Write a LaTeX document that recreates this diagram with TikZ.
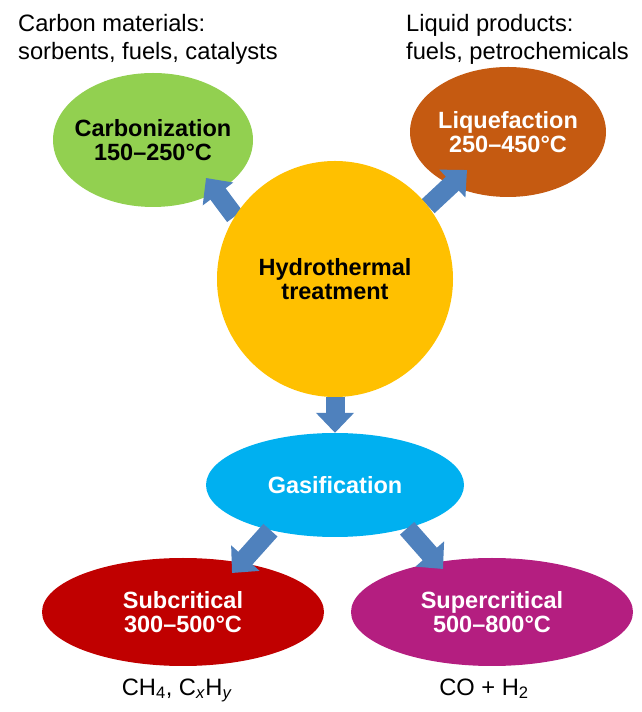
\documentclass[tikz,border=0pt]{standalone}
\usepackage{fontspec}
\setmainfont{Liberation Sans}
\usetikzlibrary{arrows.meta,shapes}
\definecolor{carbgreen}{RGB}{146,208,80}
\definecolor{liqorange}{RGB}{197,90,17}
\definecolor{hydroyellow}{RGB}{255,192,0}
\definecolor{gasblue}{RGB}{0,176,240}
\definecolor{subred}{RGB}{192,0,0}
\definecolor{supermagenta}{RGB}{180,30,128}
\definecolor{arrowblue}{RGB}{79,129,189}
\pgfdeclarelayer{front}
\pgfsetlayers{main,front}

\begin{document}
\begin{tikzpicture}[>=latex,line join=bevel,
  blob/.style={ellipse,inner sep=-30bp,align=center,
    font=\bfseries\fontsize{23.5bp}{23.5bp}\selectfont},
  blockarrow/.style={draw=arrowblue,line width=19bp,
    -{Triangle[width=37bp,length=20bp]}},
  note/.style={inner sep=0bp,align=left,
    font=\fontsize{23.7bp}{27.6bp}\selectfont}]
  \useasboundingbox (0bp,0bp) rectangle (642bp,712bp);
  \node (carbuse) at (18bp,652.7bp) [note,anchor=base west]
  {Carbon materials:\\sorbents, fuels, catalysts};
  \node (liquse) at (406bp,652.7bp) [note,anchor=base west]
  {Liquid products:\\fuels, petrochemicals};
  \node (carb) at (153bp,572bp) [blob,fill=carbgreen,minimum
  width=200bp,minimum height=134bp] {Carbonization\\150--250°C};
  \node (liq) at (508bp,580bp) [blob,fill=liqorange,text=white,minimum
  width=196bp,minimum height=130bp] {Liquefaction\\250--450°C};
  \node (gas) at (335bp,227bp) [blob,fill=gasblue,text=white,minimum
  width=258bp,minimum height=104bp] {Gasification};
  \node (sub) at (183bp,100bp) [blob,fill=subred,text=white,minimum
  width=282bp,minimum height=108bp] {Subcritical\\300--500°C};
  \node (super) at (492bp,100bp) [blob,fill=supermagenta,text=white,minimum
  width=282bp,minimum height=108bp] {Supercritical\\500--800°C};
  \node (subgas) at (177bp,17bp) [note,anchor=base]
  {CH\textsubscript{4}, C\textsubscript{\textit{x}}H\textsubscript{\textit{y}}};
  \node (supergas) at (484bp,17bp) [note,anchor=base] {CO + H\textsubscript{2}};
  \begin{pgfonlayer}{front}
  \node (hydro) at (335bp,433bp) [blob,circle,fill=hydroyellow,minimum
  size=236bp] {Hydrothermal\\treatment};
  \end{pgfonlayer}
  \coordinate (carbtip) at (206bp,534bp);
  \coordinate (liqtip) at (467bp,542bp);
  \coordinate (subtip) at (232bp,139bp);
  \coordinate (supertip) at (443bp,143bp);
  \draw [blockarrow] (hydro.148) -- (carbtip);
  \draw [blockarrow] (hydro.38) -- (liqtip);
  \draw [blockarrow] (hydro.south) -- (gas.north);
  \draw [blockarrow] (gas.215) -- (subtip);
  \draw [blockarrow] (gas.-31) -- (supertip);
\end{tikzpicture}
\end{document}
